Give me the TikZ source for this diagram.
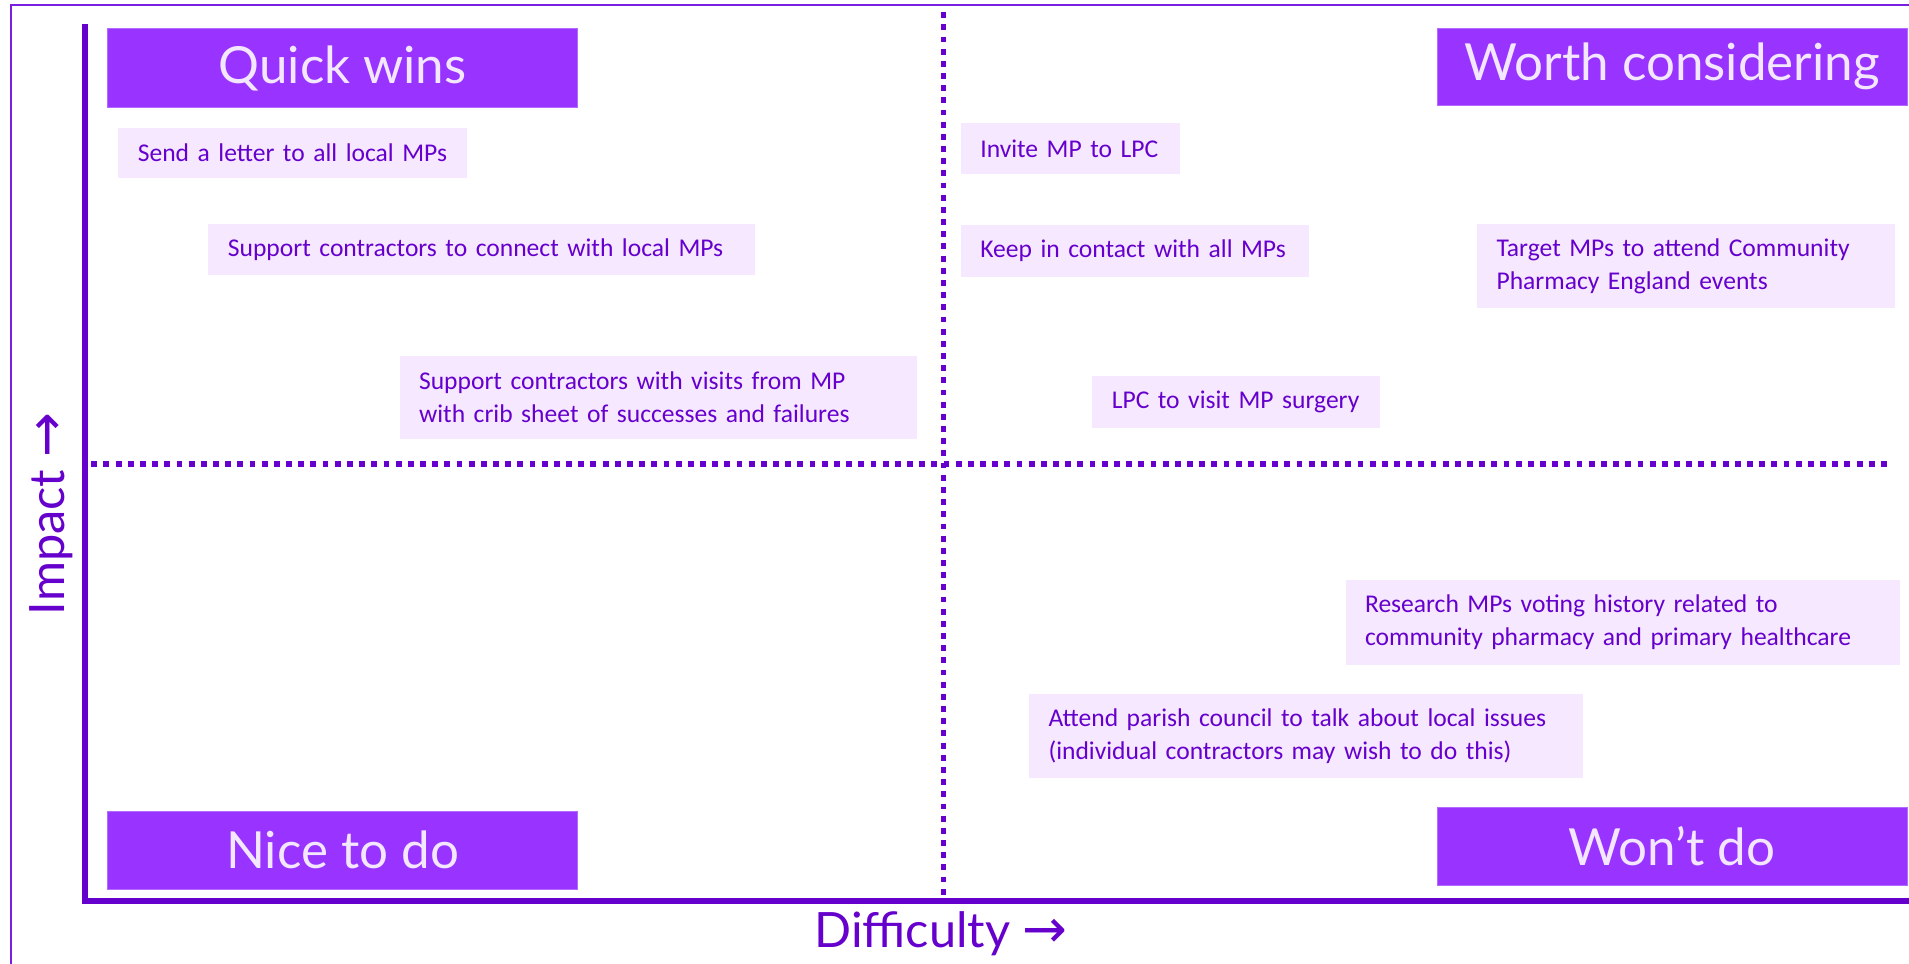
\documentclass[tikz,border=0pt]{standalone}
\usepackage{fontspec}
\setmainfont{Carlito}
\newfontfamily\headfont{Lato}
\newfontfamily\arrowfont{DejaVu Sans}
\definecolor{axiscol}{HTML}{6600CC}
\definecolor{framecol}{HTML}{7A1FE0}
\definecolor{headfill}{HTML}{9933FF}
\definecolor{headedge}{HTML}{B36BFF}
\definecolor{headtext}{HTML}{F3E6FF}
\definecolor{notefill}{HTML}{F5E8FF}
\definecolor{notetext}{HTML}{6600CC}
\tikzset{
  header/.style={draw=headedge, line width=0.8pt, fill=headfill, text=headtext,
    font=\headfont\fontsize{42}{46}\selectfont, inner sep=0pt, anchor=north west},
  note/.style={fill=notefill, text=notetext, font=\fontsize{21}{27}\selectfont,
    align=left, inner xsep=16pt, inner ysep=0pt, anchor=north west},
  axisline/.style={draw=axiscol, line width=5pt},
  divider/.style={draw=axiscol, line width=4.8pt, dash pattern=on 4.8pt off 5.2pt},
  axislabel/.style={text=axiscol, font=\headfont\fontsize{40}{42}\selectfont, inner sep=0pt}
}
\newcommand{\axisarrow}{{\arrowfont\fontsize{44}{44}\selectfont →}}
\begin{document}
\begin{tikzpicture}[x=1pt, y=-1pt]
\useasboundingbox (0,0) rectangle (1568,791);
\fill[white] (0,0) rectangle (1568,791);
% outer frame
\draw[framecol, line width=2pt] (9,4) rectangle (1600,820);

% quadrant dividers
\coordinate (vtop) at (775,10);
\coordinate (vbot) at (775,738);
\coordinate (hleft) at (75,381);
\coordinate (hright) at (1553,381);
\draw[divider] (vtop) -- (vbot);
\draw[divider] (hleft) -- (hright);

% axes
\coordinate (ytop) at (70,22);
\coordinate (origin) at (70,740);
\coordinate (xend) at (1566,740);
\draw[axisline, line cap=rect] (ytop) -- (origin) -- (xend);

% axis labels
\node[axislabel, rotate=90] (impact) at (42,422) {Impact \axisarrow};
\node[axislabel] (difficulty) at (773,767) {Difficulty \axisarrow};

% quadrant headers
\node[header, minimum width=386pt, minimum height=65pt] (qw) at (88,23) {Quick wins};
\node[header, minimum width=386pt, minimum height=63pt] (wc) at (1180,23) {Worth considering};
\node[header, minimum width=386pt, minimum height=64pt] (nd) at (88,666) {Nice to do};
\node[header, minimum width=386pt, minimum height=64pt] (wd) at (1180,663) {Won’t do};

% actions (each line kept in one box so it never wraps)
\node[note, text width=254pt, minimum height=41pt] (b1) at (97,105) {\mbox{Send a letter to all local MPs}};
\node[note, text width=417pt, minimum height=42pt] (b2) at (171,184) {\mbox{Support contractors to connect with local MPs}};
\node[note, text width=393pt, minimum height=68pt] (b3) at (328,292) {\mbox{Support contractors with visits from MP}\\\mbox{with crib sheet of successes and failures}};
\node[note, text width=148pt, minimum height=42pt] (b4) at (789,101) {\mbox{Invite MP to LPC}};
\node[note, text width=254pt, minimum height=42pt] (b5) at (789,185) {\mbox{Keep in contact with all MPs}};
\node[note, text width=311pt, minimum height=69pt] (b6) at (1213,184) {\mbox{Target MPs to attend Community}\\\mbox{Pharmacy England events}};
\node[note, text width=204pt, minimum height=42pt] (b7) at (897,309) {\mbox{LPC to visit MP surgery}};
\node[note, text width=423pt, minimum height=70pt] (b8) at (1105,476) {\mbox{Research MPs voting history related to}\\\mbox{community pharmacy and primary healthcare}};
\node[note, text width=423pt, minimum height=69pt] (b9) at (845,570) {\mbox{Attend parish council to talk about local issues}\\\mbox{(individual contractors may wish to do this)}};
\end{tikzpicture}
\end{document}
